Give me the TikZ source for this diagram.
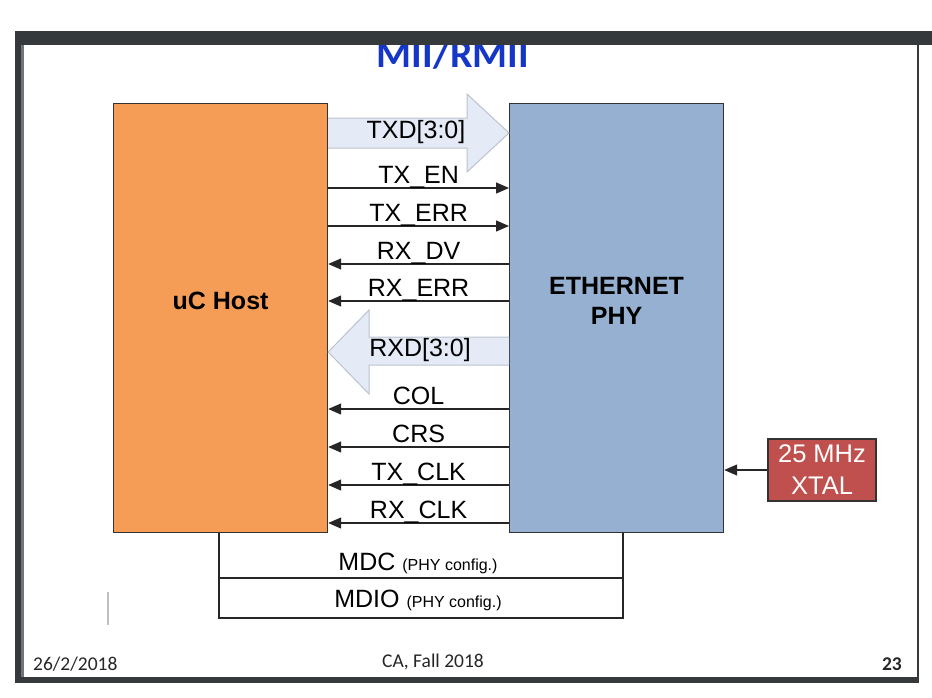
\documentclass[tikz,border=0pt]{standalone}
\usepackage{fontspec}
\setmainfont{Liberation Sans}
\newfontfamily\footfont{Carlito}
\usepackage{xcolor}
\usepackage{tikz}
\usetikzlibrary{arrows.meta}

\definecolor{hostorange}{HTML}{F59D56}
\definecolor{phyblue}{HTML}{95B0D1}
\definecolor{busfill}{HTML}{E4EBF6}
\definecolor{busline}{HTML}{BCC3CE}
\definecolor{xtalred}{HTML}{C0504D}
\definecolor{framegray}{HTML}{35393C}
\definecolor{titleblue}{HTML}{1437C8}

\begin{document}
\begin{tikzpicture}[x=1pt, y=-1pt,
  box/.style={draw=black!80, line width=1.2pt, minimum width=214pt, minimum height=429pt, anchor=north west, inner sep=0pt},
  sig/.style={line width=1.3pt, draw=black!85},
  sigarrow/.style={-{Triangle[length=13pt,width=11pt]}},
  lbl/.style={font=\fontsize{25}{30}\selectfont, inner sep=0pt, anchor=base, yshift=5pt},
  bus/.style={fill=busfill, draw=busline, line width=1pt},
  foot/.style={font=\footfont\fontsize{19.5}{22}\selectfont, text=black!85, inner sep=0pt}]
\useasboundingbox (0,0) rectangle (932,697);

% title, partly hidden under the frame
\node[font=\footfont\bfseries\fontsize{40}{40}\selectfont, text=titleblue, anchor=base, inner sep=0pt] (title) at (453,67) {MII/RMII};

% slide frame
\fill[framegray] (15,31) rectangle (932,45);
\fill[framegray] (15,31) rectangle (21,683);
\fill[framegray!70] (21,45) rectangle (24,677);
\fill[framegray] (15,677) rectangle (919,683);
\fill[framegray] (917,31) rectangle (919,683);

% the two blocks
\node[box, fill=hostorange] (host) at (113,103) {};
\node[box, fill=phyblue] (phy) at (509,103) {};
\node[font=\bfseries\fontsize{25}{30}\selectfont, inner sep=0pt] (hosttext) at ([yshift=17pt]host.center) {uC Host};
\node[font=\bfseries\fontsize{25}{30}\selectfont, align=center, inner sep=0pt] (phytext) at ([yshift=17pt]phy.center) {ETHERNET\\PHY};

% data buses
\draw[bus] (host.east |- 0,118) -- (467,118) -- (467,94) -- (phy.west |- 0,133) -- (467,172) -- (467,148) -- (host.east |- 0,148);
\node[font=\fontsize{25}{30}\selectfont, inner sep=0pt] (txd) at (416,132) {TXD[3:0]};
\draw[bus] (phy.west |- 0,337) -- (369,337) -- (369,310) -- (host.east |- 0,352) -- (369,394) -- (369,365) -- (phy.west |- 0,365);
\node[font=\fontsize{25}{30}\selectfont, inner sep=0pt] (rxd) at (420,350) {RXD[3:0]};

% single lines
\foreach \y/\sname in {188/TX\_EN, 226/TX\_ERR}
  \draw[sig, sigarrow] (host.east |- 0,\y) -- node[lbl] {\sname} (phy.west |- 0,\y);
\foreach \y/\sname in {264/RX\_DV, 301/RX\_ERR, 409/COL, 447/CRS, 485/TX\_CLK, 523/RX\_CLK}
  \draw[sig, sigarrow] (phy.west |- 0,\y) -- node[lbl] {\sname} (host.east |- 0,\y);

% management interface
\draw[sig] (host.south -| 219,0) -- (219,618) -- (623,618) -- (phy.south -| 623,0);
\draw[sig] (219,578) -- (623,578);
\node[font=\fontsize{25}{30}\selectfont, anchor=base, inner sep=0pt] (mdc) at (418,570) {MDC {\fontsize{16}{18}\selectfont (PHY config.)}};
\node[font=\fontsize{25}{30}\selectfont, anchor=base, inner sep=0pt] (mdio) at (418,607) {MDIO {\fontsize{16}{18}\selectfont (PHY config.)}};

% clock
\node[draw=black!80, line width=1.2pt, fill=xtalred, text=white, minimum width=108pt, minimum height=62pt, align=center, font=\fontsize{25.5}{32}\selectfont, inner sep=0pt] (xtal) at (822,470) {25 MHz\\XTAL};
\draw[sig, sigarrow] (xtal.west) -- (xtal.west -| phy.east);

\draw[black!25, line width=1.2pt] (108,592) -- (108,625);

% footer
\node[foot, anchor=base west] (date) at (33,670) {26/2/2018};
\node[foot, anchor=base] (course) at (433,667) {CA, Fall 2018};
\node[foot, font=\footfont\bfseries\fontsize{19.5}{22}\selectfont, anchor=base east] (page) at (902,670) {23};
\end{tikzpicture}
\end{document}
